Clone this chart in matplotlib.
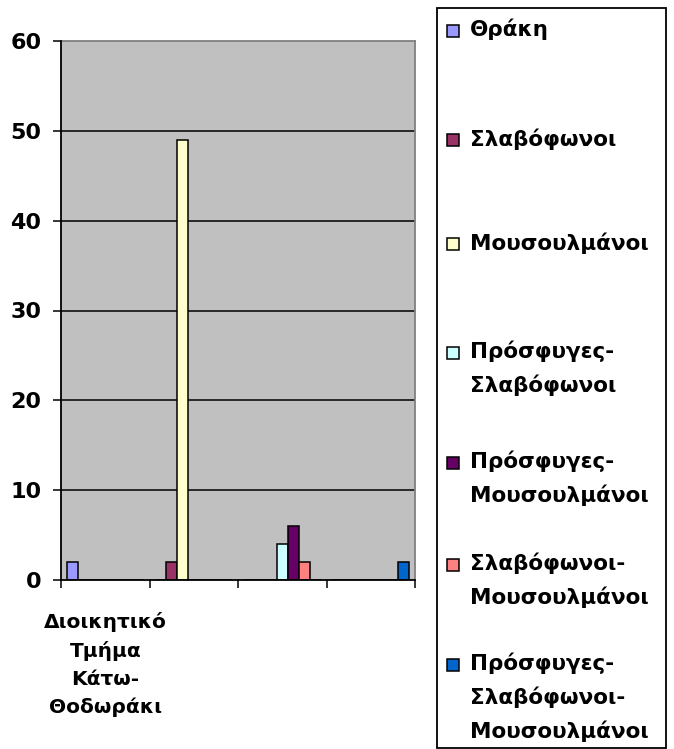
import numpy as np
import matplotlib.pyplot as plt
from matplotlib.patches import Rectangle

plt.rcParams['font.family'] = ['DejaVu Sans']
plt.rcParams['font.weight'] = 'bold'

# --- DATOS ---
categorias = ["Διοικητικό\nΤμήμα\nΚάτω-\nΘοδωράκι", "", "", ""]
series = ["Θράκη", "Σλαβόφωνοι", "Μουσουλμάνοι", "Πρόσφυγες-\nΣλαβόφωνοι",
          "Πρόσφυγες-\nΜουσουλμάνοι", "Σλαβόφωνοι-\nΜουσουλμάνοι",
          "Πρόσφυγες-\nΣλαβόφωνοι-\nΜουσουλμάνοι"]
thraki = [2, 0, 0, 0]
slavofonoi = [0, 2, 0, 0]
mousoulmanoi = [0, 49, 0, 0]
prosf_slav = [0, 0, 4, 0]
prosf_mous = [0, 0, 6, 0]
slav_mous = [0, 0, 2, 0]
prosf_slav_mous = [0, 0, 0, 2]
colores = ["#9999FF", "#993366", "#FFFFCC", "#CCFFFF", "#660066", "#FF8080", "#0066CC"]

valores = [thraki, slavofonoi, mousoulmanoi, prosf_slav, prosf_mous, slav_mous, prosf_slav_mous]

W, H = 674, 749
fig = plt.figure(figsize=(W / 100, H / 100), dpi=100)
ax = fig.add_axes([61 / W, 1 - 580 / H, (415 - 61) / W, (580 - 41) / H])
ax.set_facecolor("#C0C0C0")

x = np.arange(len(categorias))
ancho = 0.1243
for i, (vals, color) in enumerate(zip(valores, colores)):
    offset = (i - (len(series) - 1) / 2) * ancho
    ax.bar(x + offset, vals, ancho, color=color, edgecolor="black", linewidth=1.1, zorder=3)

ax.set_xlim(-0.5, len(categorias) - 0.5)
ax.set_ylim(0, 60)
ax.set_yticks(range(0, 61, 10))
for y in range(10, 60, 10):
    ax.axhline(y, color="black", linewidth=1.1, zorder=1)

# ticks de categoría: marcas en los bordes, etiquetas en el centro
ax.set_xticks(np.arange(-0.5, len(categorias), 1))
ax.set_xticklabels([])
ax.set_xticks(x, minor=True)
ax.set_xticklabels(categorias, minor=True, fontsize=14.5, fontweight="bold", linespacing=1.58)
ax.tick_params(axis="x", which="major", direction="out", length=6, width=1.1)
ax.tick_params(axis="x", which="minor", length=0, pad=23)
ax.tick_params(axis="y", direction="out", length=6, width=1.1, pad=8, labelsize=16)
for t in ax.get_yticklabels():
    t.set_fontweight("bold")

for s in ["left", "bottom"]:
    ax.spines[s].set_color("black")
    ax.spines[s].set_linewidth(1.3)
    ax.spines[s].set_zorder(4)
for s in ["top", "right"]:
    ax.spines[s].set_color("#808080")
    ax.spines[s].set_linewidth(1.3)

# --- LEYENDA ---
fig.patches.append(Rectangle((437 / W, 1 - 748 / H), (666 - 437) / W, (748 - 8) / H,
                             transform=fig.transFigure, facecolor="white",
                             edgecolor="black", linewidth=1.3))
y_pos = [31, 140, 244, 353, 463, 565, 665]
for nombre, color, yp in zip(series, colores, y_pos):
    fig.patches.append(Rectangle((447 / W, 1 - (yp + 6) / H), 12 / W, 12 / H,
                                 transform=fig.transFigure, facecolor=color,
                                 edgecolor="black", linewidth=1.1))
    fig.text(470 / W, 1 - (yp - 12) / H, nombre, fontsize=15.5, fontweight="bold",
             va="top", ha="left", linespacing=1.7)

fig.savefig("out.png", dpi=100)
